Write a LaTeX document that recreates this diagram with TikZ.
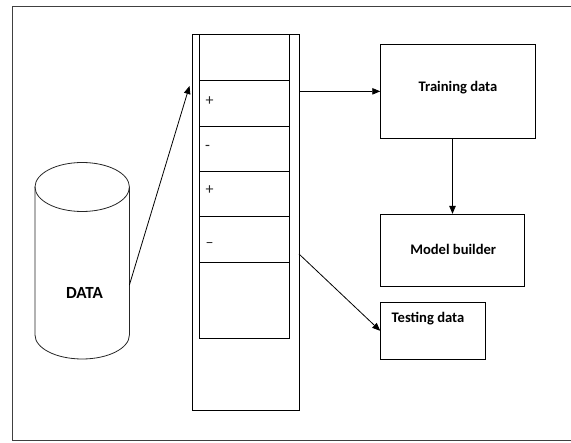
\documentclass[tikz,border=0pt]{standalone}
\usepackage{fontspec}
\setmainfont{Carlito}
\usetikzlibrary{arrows.meta,calc}
\begin{document}
\begin{tikzpicture}[x=1pt,y=-1pt,
  line/.style={line width=0.9pt, draw=black},
  box/.style={draw=black, line width=0.9pt, rectangle, inner sep=0pt},
  arr/.style={line width=0.8pt, draw=black, -{Triangle[length=8pt,width=6.5pt]}},
  lbl/.style={font=\fontsize{14.6}{16}\selectfont\bfseries, inner sep=0pt},
  sign/.style={font=\fontsize{16}{18}\selectfont, inner sep=0pt, text=black!85}]
\useasboundingbox (0,0) rectangle (571,443);
% outer frame (open on the right)
\draw[line width=1.1pt, draw=black!75] (571,6.5) -- (12.5,6.5) -- (12.5,440.5) -- (571,440.5);
% cylinder
\draw[line width=0.8pt, draw=black!85] (82.2,187) ellipse [x radius=47.2pt, y radius=24.5pt];
\draw[line width=0.8pt, draw=black!85] (35,187) -- (35,335) arc[start angle=180, end angle=360, x radius=47.2pt, y radius=24pt] -- (129.4,187);
\node[font=\fontsize{17}{19}\selectfont\bfseries, inner sep=0pt] (data) at (84.5,293) {DATA};
% column
\node[box, minimum width=106.5pt, minimum height=375.5pt] (col) at (245.75,222.25) {};
\node[box, minimum width=90pt, minimum height=303.5pt] (inner) at (244.5,186.25) {};
\draw[line] (199.5,80.5) -- (289.5,80.5);
\draw[line] (199.5,126.5) -- (289.5,126.5);
\draw[line] (199.5,171) -- (289.5,171);
\draw[line] (199.5,216.5) -- (289.5,216.5);
\draw[line] (199.5,262) -- (289.5,262);
\node[sign] (s1) at (209.5,101) {+};
\node[sign] (s2) at (207.5,147.5) {-};
\node[sign] (s3) at (209.5,190) {+};
\node[sign] (s4) at (209.5,245.5) {–};
% boxes
\node[box, minimum width=154.3pt, minimum height=94.7pt] (train) at (457.85,91.35) {};
\node[lbl] (traint) at (458,88) {Training data};
\node[box, minimum width=143.6pt, minimum height=71.7pt] (model) at (452.5,250.15) {};
\node[lbl] (modelt) at (453.2,249) {Model builder};
\node[box, minimum width=104.6pt, minimum height=56.3pt] (test) at (433,330.85) {};
\node[lbl] (testt) at (428,319) {Testing data};
% connectors
\coordinate (cylR) at (129.4,285);
\coordinate (colIn) at (189.5,86);
\coordinate (colOut) at (299,254);
\draw[arr] (cylR) -- (colIn);
\draw[arr] (train.west -| col.east) -- (train.west);
\draw[arr] (train.south -| model.north) -- (model.north);
\draw[arr] (colOut) -- (test.west);
\end{tikzpicture}
\end{document}
